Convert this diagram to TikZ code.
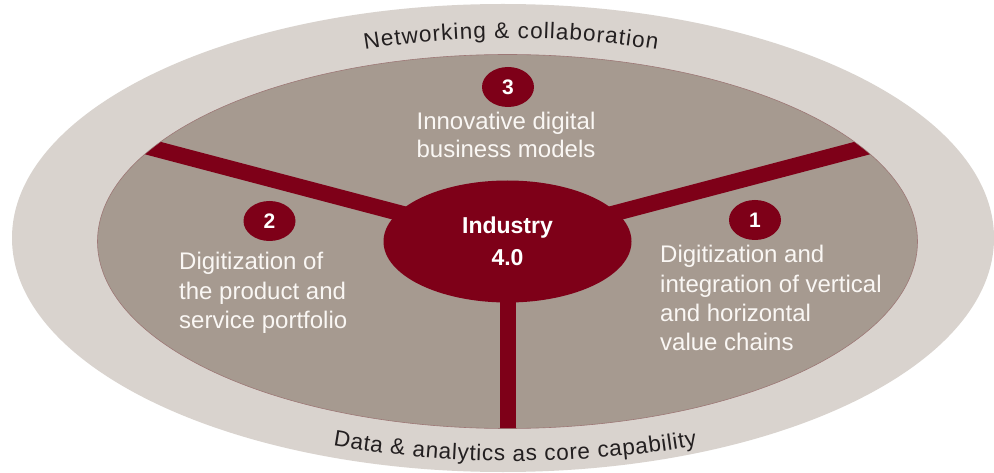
\documentclass[tikz,border=0pt]{standalone}
\usepackage{fontspec}
\setmainfont{Liberation Sans}
\usetikzlibrary{shapes.geometric,decorations.text,calc}
\definecolor{ringc}{HTML}{D9D3CE}
\definecolor{innerc}{HTML}{A69A90}
\definecolor{redc}{HTML}{7E0018}
\definecolor{lighttext}{HTML}{FAF7F4}
\definecolor{darktext}{HTML}{231F20}
\begin{document}
\begin{tikzpicture}[x=1pt,y=1pt,
  ringshape/.style={ellipse, fill=ringc, inner sep=0pt, minimum width=982pt, minimum height=468pt},
  innershape/.style={ellipse, fill=innerc, draw=redc!22!innerc, line width=0.6pt, inner sep=0pt, minimum width=820pt, minimum height=374pt},
  coreshape/.style={ellipse, fill=redc, inner sep=0pt, minimum width=248pt, minimum height=122pt, text=white, font=\bfseries\fontsize{23}{32}\selectfont, align=center},
  badge/.style={ellipse, fill=redc, inner sep=0pt, minimum width=52pt, minimum height=40pt, text=white, font=\bfseries\fontsize{21}{21}\selectfont},
  bar/.style={draw=redc, line width=16pt, line cap=butt},
  lbl/.style={inner sep=0pt, text=lighttext, font=\fontsize{24}{29.2}\selectfont},
  toplbl/.style={inner sep=0pt, text=lighttext, font=\fontsize{24}{28}\selectfont}
]
\useasboundingbox (0,0) rectangle (994,472);
\fill[white] (0,0) rectangle (994,472);

\node[ringshape] (outer) at (503,234) {};
\node[innershape] (inner) at (507.5,230.5) {};

\coordinate (c) at (507.5,230.5);
\coordinate (e1) at ($(c)+(30:410pt and 187pt)$);
\coordinate (e2) at ($(c)+(150:410pt and 187pt)$);
\coordinate (e3) at ($(c)+(270:410pt and 187pt)$);

\begin{scope}
  \clip (c) ellipse [x radius=409.6pt, y radius=186.6pt];
  \draw[bar, shorten >=-20pt] (c) -- (e1);
  \draw[bar, shorten >=-20pt] (c) -- (e2);
  \draw[bar, shorten >=-20pt] (c) -- (e3);
\end{scope}

\node[coreshape] (core) at (c) {Industry\\4.0};

\node[badge] (b3) at (508,385) {3};
\node[badge] (b2) at (269.5,251) {2};
\node[badge] (b1) at (755,252) {1};

\node[toplbl, anchor=base] (t3) at (506,342)
  {\begin{tabular}[t]{@{}c@{}}Innovative digital\\business models\end{tabular}};
\node[lbl, anchor=base west] (t2) at (179,202)
  {\begin{tabular}[t]{@{}l@{}}Digitization of\\the product and\\service portfolio\end{tabular}};
\node[lbl, anchor=base west] (t1) at (660,209)
  {\begin{tabular}[t]{@{}l@{}}Digitization and\\integration of vertical\\and horizontal\\value chains\end{tabular}};

\path[decorate, decoration={text along path, text color=darktext, text align={fit to path},
  text={|\fontsize{22.5}{22.5}\selectfont|Networking {\&} collaboration}}]
  (510,234) ++(109.6:433pt and 200pt)
  arc[start angle=109.6, end angle=70.15, x radius=433pt, y radius=200pt];

\path[decorate, decoration={text along path, text color=darktext, text align={fit to path},
  text={|\fontsize{22.5}{22.5}\selectfont|Data {\&} analytics as core capability}}]
  (515,234) ++(248.75:502pt and 223pt)
  arc[start angle=248.75, end angle=291.25, x radius=502pt, y radius=223pt];
\end{tikzpicture}
\end{document}
